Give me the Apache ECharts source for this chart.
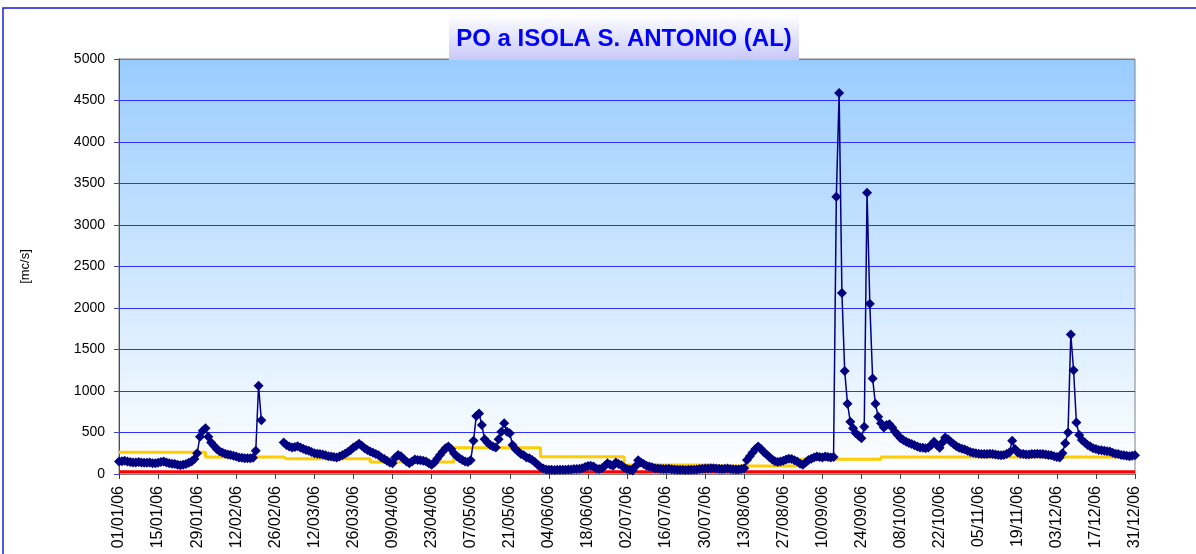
<!DOCTYPE html>
<html><head><meta charset="utf-8">
<script src="https://cdn.jsdelivr.net/npm/echarts@6/dist/echarts.min.js"></script>
<style>html,body{margin:0;padding:0;background:#fff}#c{width:1196px;height:554px}</style>
</head><body><div id="c"></div><script>
// Daily flow (mc/s), 2006, one array per month (null = missing)
const jan=[150,155,160,150,145,140,140,145,140,135,135,140,130,130,135,145,150,140,130,125,120,110,105,110,120,135,150,180,250,450,520];
const feb=[550,450,380,340,300,275,260,245,235,228,220,210,200,195,190,190,190,195,280,1063,648,null,null,null,null,null,null,null];
const mar=[380,350,330,320,325,335,320,305,290,280,265,250,245,240,235,225,215,210,205,200,210,225,245,265,290,320,340,365,340,310,290];
const apr=[270,255,240,225,200,180,160,140,130,200,230,215,180,150,130,150,175,170,165,160,150,130,110,140,185,230,270,310,330,300];
const may=[250,215,190,170,150,145,165,400,700,730,590,420,380,350,330,320,420,510,610,510,490,350,300,270,240,225,200,190,170,145,110];
const jun=[85,65,55,50,50,48,50,52,50,50,55,55,60,60,62,70,85,95,100,90,65,60,70,95,130,110,100,140,120,105];
const jul=[75,60,50,42,90,165,140,120,100,90,80,70,65,62,60,60,62,58,55,52,50,50,48,50,52,50,55,60,62,65,65];
const aug=[68,70,65,62,60,62,65,60,58,55,55,60,70,170,215,260,300,330,300,265,235,205,175,155,145,150,160,175,185,180,165];
const sep=[150,125,110,140,170,185,200,210,205,200,210,205,200,205,3340,4590,2180,1240,845,630,550,490,460,430,570,3390,2050,1150,845,690];
const oct=[610,560,590,600,560,510,470,430,410,390,375,360,345,330,320,315,310,320,350,390,350,315,380,440,420,390,360,335,315,305,295];
const nov=[280,265,255,250,245,240,240,240,245,240,235,230,225,230,240,260,400,300,260,245,240,235,235,240,240,245,240,240,235,230];
const dec=[225,215,205,200,250,370,500,1680,1250,620,470,410,380,350,330,310,300,290,285,280,275,270,255,245,240,230,225,220,215,220,225];
// Monthly reference flow (yellow) and minimum flow (red)
const monthlyRef=[261,205,184,145,317,208,108,96,177,205,205,205];
const minFlow=28;
const monthDays=[31,28,31,30,31,30,31,31,30,31,30,31];
const yTicks=[0,500,1000,1500,2000,2500,3000,3500,4000,4500,5000];

const flow=[].concat(jan,feb,mar,apr,may,jun,jul,aug,sep,oct,nov,dec);
const dates=[];const refLine=[];const minLine=[];
monthDays.forEach((n,m)=>{for(let d=1;d<=n;d++){dates.push(String(d).padStart(2,'0')+'/'+String(m+1).padStart(2,'0')+'/06');refLine.push(monthlyRef[m]);minLine.push(minFlow);}});
if(flow.length!==dates.length) throw new Error('length '+flow.length+' vs '+dates.length);

const chart=echarts.init(document.getElementById('c'),null,{renderer:'canvas'});
const FONT='Liberation Sans, Arial, sans-serif';
const splitColors=yTicks.map((v,i)=> (i===yTicks.length-1)?'#808080':'#2f2fff');
chart.setOption({
  animation:false,
  backgroundColor:'#ffffff',
  grid:{left:119,right:61,top:59,bottom:80,show:true,borderWidth:1,borderColor:'#808080',
    backgroundColor:new echarts.graphic.LinearGradient(0,0,0,1,[{offset:0,color:'#99ccff'},{offset:1,color:'#ffffff'}])},
  xAxis:{type:'category',data:dates,boundaryGap:false,
    axisLine:{lineStyle:{color:'#808080',width:1}},
    axisTick:{show:true,interval:13,length:5,lineStyle:{color:'#404040'}},
    axisLabel:{interval:13,rotate:90,margin:12,fontSize:16,color:'#000',fontFamily:FONT},
    splitLine:{show:false}},
  yAxis:{type:'value',min:0,max:5000,interval:500,
    name:'[mc/s]',nameLocation:'middle',nameGap:87,nameRotate:90,
    nameTextStyle:{fontSize:13,color:'#000',fontFamily:FONT},
    axisLine:{show:true,lineStyle:{color:'#4040c0',width:1}},
    axisTick:{show:true,length:5,lineStyle:{color:'#4040c0'}},
    axisLabel:{margin:14,fontSize:14,color:'#000',fontFamily:FONT,formatter:v=>String(v)},
    splitLine:{show:true,lineStyle:{color:splitColors,width:1}}},
  series:[
    {type:'line',data:minLine,symbol:'none',lineStyle:{color:'#ff0000',width:3},itemStyle:{color:'#ff0000'},z:2,silent:true},
    {type:'line',data:refLine,step:'end',symbol:'none',lineStyle:{color:'#ffcc00',width:3},itemStyle:{color:'#ffcc00'},z:3,silent:true},
    {type:'line',data:flow,connectNulls:false,symbol:'diamond',symbolSize:10,showSymbol:true,showAllSymbol:true,
      lineStyle:{color:'#000080',width:1.5},itemStyle:{color:'#000080'},z:4,silent:true}
  ],
  graphic:[
    {type:'rect',shape:{x:3,y:8,width:1300,height:700},style:{fill:'none',stroke:'#1a1ae6',lineWidth:1.5},z:100,silent:true},
    {type:'rect',shape:{x:449,y:17,width:350,height:43},
      style:{fill:new echarts.graphic.LinearGradient(0,0,0,1,[{offset:0,color:'#fbfcff'},{offset:1,color:'#c8c8f8'}])},z:101,silent:true},
    {type:'text',x:624,y:39,style:{text:'PO a ISOLA S. ANTONIO (AL)',fill:'#0000ff',font:'bold 24px Liberation Sans, Arial, sans-serif',align:'center',verticalAlign:'middle'},z:102,silent:true}
  ]
});
</script></body></html>
